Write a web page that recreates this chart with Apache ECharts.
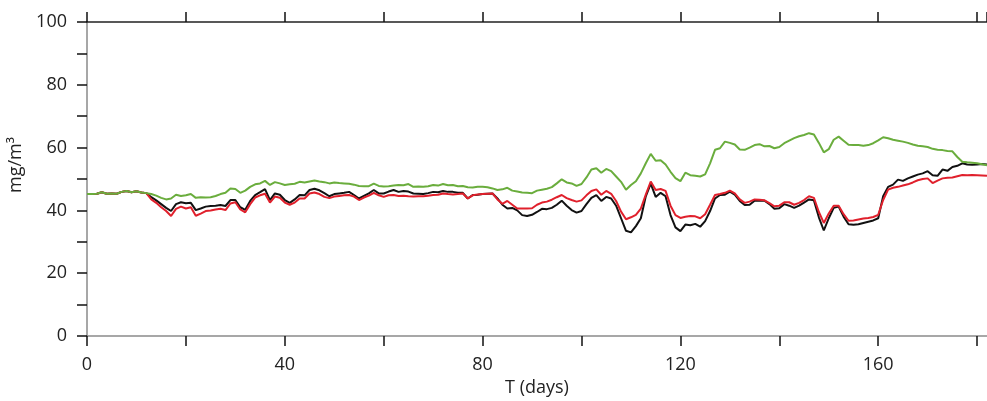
<!DOCTYPE html>
<html>
<head>
<meta charset="utf-8">
<script src="https://cdn.jsdelivr.net/npm/echarts@6/dist/echarts.min.js"></script>
<style>
  html, body { margin: 0; padding: 0; background: #fff; }
  #chart { width: 987px; height: 401px; }
</style>
</head>
<body>
<div id="chart"></div>
<script>
// Days 0..182 (one reading per day)
const days = Array.from({length: 183}, (_, i) => i);

const blackSeries = [
  45.2,45.2,45.3,45.8,45.3,45.4,45.3,45.9,46.2,45.8,46.1,45.7,45.5,
  44.2,43.2,42.0,40.8,39.8,42.0,42.6,42.3,42.4,40.1,40.6,41.2,41.4,41.5,41.7,41.4,43.3,
  43.3,41.0,40.2,43.0,44.9,45.8,46.8,43.3,45.4,45.0,43.3,42.4,43.5,44.9,44.8,46.5,46.9,
  46.4,45.5,44.5,45.2,45.4,45.6,45.9,44.9,43.8,44.6,45.4,46.5,45.4,45.4,46.0,46.5,45.9,
  46.2,46.0,45.4,45.3,45.2,45.5,45.9,45.8,46.2,45.9,45.9,45.6,45.6,43.8,44.9,45.0,45.2,
  45.3,45.4,43.8,41.8,40.6,40.8,40.0,38.5,38.2,38.6,39.5,40.5,40.4,40.8,41.8,43.1,41.5,
  40.1,39.3,39.8,42.0,44.0,44.9,43.0,44.3,43.8,41.5,37.5,33.5,33.0,35.0,37.5,44.5,48.5,
  44.3,45.6,44.5,38.5,34.6,33.4,35.5,35.3,35.7,34.8,36.6,39.8,43.8,44.9,45.0,46.0,45.0,
  43.0,41.7,41.8,43.1,43.1,43.1,42.0,40.5,40.7,42.0,41.5,40.8,41.5,42.5,43.5,43.2,37.8,
  33.6,37.5,40.8,41.2,38.0,35.6,35.4,35.6,36.0,36.4,36.8,37.5,44.5,47.5,48.2,49.8,49.4,
  50.2,50.8,51.4,51.8,52.5,51.2,51.0,53.0,52.6,53.8,54.2,55.0,54.6,54.5,54.6,54.8,54.6
];

const redSeries = [
  45.2,45.2,45.3,45.8,45.3,45.4,45.3,45.9,46.2,45.8,46.1,45.7,45.5,
  43.5,42.4,41.0,39.8,38.2,40.5,41.2,40.6,41.0,38.3,39.0,39.8,40.0,40.3,40.5,40.1,42.2,
  42.6,40.3,39.4,42.0,44.1,44.8,45.3,42.5,44.4,44.0,42.5,41.8,42.5,43.8,43.8,45.4,45.7,
  45.2,44.3,43.9,44.4,44.6,44.8,44.9,44.4,43.3,44.1,44.7,45.6,44.8,44.3,44.8,44.9,44.6,
  44.7,44.5,44.4,44.5,44.5,44.7,44.9,45.0,45.4,45.2,45.1,45.2,45.4,43.8,44.8,45.1,45.2,
  45.3,45.4,43.5,42.1,43.0,41.8,40.6,40.6,40.6,40.7,41.8,42.5,42.8,43.4,44.2,44.9,43.9,
  43.3,42.8,43.2,44.8,46.2,46.7,45.0,46.2,45.3,43.0,39.6,37.2,37.8,38.6,40.6,45.0,49.2,
  46.5,46.8,46.2,41.5,38.5,37.6,38.0,38.2,38.1,37.5,38.8,41.8,44.9,45.2,45.6,46.3,45.4,
  43.5,42.4,42.8,43.5,43.4,43.2,42.3,41.3,41.5,42.6,42.6,41.8,42.4,43.3,44.5,44.0,39.5,
  36.0,39.0,41.5,41.5,38.8,36.7,36.8,37.1,37.4,37.6,37.9,38.6,43.3,46.6,47.2,47.5,47.9,
  48.3,48.9,49.6,50.0,50.2,48.7,49.5,50.2,50.4,50.5,50.9,51.3,51.2,51.3,51.2,51.1,51.0
];

const greenSeries = [
  45.2,45.2,45.3,45.8,45.3,45.4,45.3,45.9,46.2,45.8,46.1,45.7,45.5,
  45.2,44.7,44.0,43.5,43.8,45.0,44.6,44.8,45.2,44.0,44.2,44.1,44.2,44.6,45.2,45.6,47.0,
  46.8,45.6,46.3,47.5,48.3,48.6,49.4,48.1,49.0,48.6,48.1,48.3,48.5,49.1,48.9,49.2,49.5,
  49.2,49.0,48.6,48.9,48.7,48.6,48.5,48.2,47.8,47.7,47.7,48.5,47.8,47.6,47.7,47.9,48.1,
  48.0,48.4,47.5,47.6,47.5,47.7,48.1,47.9,48.4,48.0,48.1,47.7,47.8,47.4,47.3,47.5,47.5,
  47.4,47.0,46.5,46.7,47.2,46.3,46.0,45.7,45.6,45.5,46.3,46.6,46.9,47.4,48.6,49.9,48.9,
  48.6,47.8,48.4,50.5,53.0,53.4,52.0,53.2,52.5,50.8,49.1,46.6,48.1,49.3,51.8,55.0,58.0,
  55.8,56.0,54.6,52.3,50.3,49.3,52.0,51.2,51.0,50.8,51.5,55.0,59.3,59.8,61.9,61.5,61.0,
  59.4,59.3,60.0,60.8,61.1,60.4,60.5,59.8,60.2,61.4,62.2,63.0,63.6,64.0,64.6,64.2,61.5,
  58.5,59.5,62.5,63.5,62.2,60.9,60.8,60.8,60.6,60.8,61.4,62.3,63.3,63.0,62.5,62.2,61.9,
  61.5,61.0,60.6,60.4,60.2,59.6,59.3,59.2,58.9,58.8,57.0,55.5,55.3,55.2,55.0,54.7,54.4
];

const yTicks = [0, 20, 40, 60, 80, 100];
const xTicks = [0, 40, 80, 120, 160];

const pair = (vals) => days.map((d, i) => [d, vals[i]]);

const FONT = 'Open Sans';
const chart = echarts.init(document.getElementById('chart'), null, {renderer: 'canvas'});

const tickStyle = { show: true, length: 10, lineStyle: { color: '#111', width: 1.5 } };

chart.setOption({
  animation: false,
  backgroundColor: '#fff',
  grid: { left: 87, right: 0, top: 22, bottom: 65, containLabel: false, outerBoundsMode: 'none' },
  xAxis: [
    {
      type: 'value', position: 'bottom', min: 0, max: 182, interval: 20,
      axisLine: { show: true, onZero: false, lineStyle: { color: '#8a8a8a', width: 1.5 } },
      axisTick: tickStyle,
      splitLine: { show: false },
      axisLabel: {
        show: true, margin: 20, fontFamily: FONT, fontSize: 18, color: '#222',
        showMaxLabel: false,
        formatter: (v) => xTicks.includes(v) ? String(v) : ''
      },
      name: 'T (days)', nameLocation: 'middle', nameGap: 39,
      nameTextStyle: { fontFamily: FONT, fontSize: 18, color: '#222' }
    },
    {
      type: 'value', position: 'top', min: 0, max: 182, interval: 20,
      axisLine: { show: true, onZero: false, lineStyle: { color: '#222', width: 1.5 } },
      axisTick: tickStyle,
      axisLabel: { show: false },
      splitLine: { show: false }
    }
  ],
  yAxis: {
    type: 'value', min: 0, max: 100, interval: 10,
    axisLine: { show: true, onZero: false, lineStyle: { color: '#8a8a8a', width: 1.5 } },
    axisTick: tickStyle,
    splitLine: { show: false },
    axisLabel: {
      show: true, margin: 20, fontFamily: FONT, fontSize: 18, color: '#222',
      formatter: (v) => yTicks.includes(v) ? String(v) : ''
    },
    name: 'mg/m³', nameLocation: 'middle', nameGap: 58, nameRotate: 90,
    nameTextStyle: { fontFamily: FONT, fontSize: 18, color: '#222', padding: [0, 0, 0, 28] }
  },
  series: [
    { name: 'black', type: 'line', data: pair(blackSeries), showSymbol: false, smooth: false,
      lineStyle: { color: '#111111', width: 2 }, itemStyle: { color: '#111111' } },
    { name: 'red', type: 'line', data: pair(redSeries), showSymbol: false, smooth: false,
      lineStyle: { color: '#e0202c', width: 2 }, itemStyle: { color: '#e0202c' } },
    { name: 'green', type: 'line', data: pair(greenSeries), showSymbol: false, smooth: false,
      lineStyle: { color: '#6aad3d', width: 2 }, itemStyle: { color: '#6aad3d' } }
  ]
});
</script>
</body>
</html>
